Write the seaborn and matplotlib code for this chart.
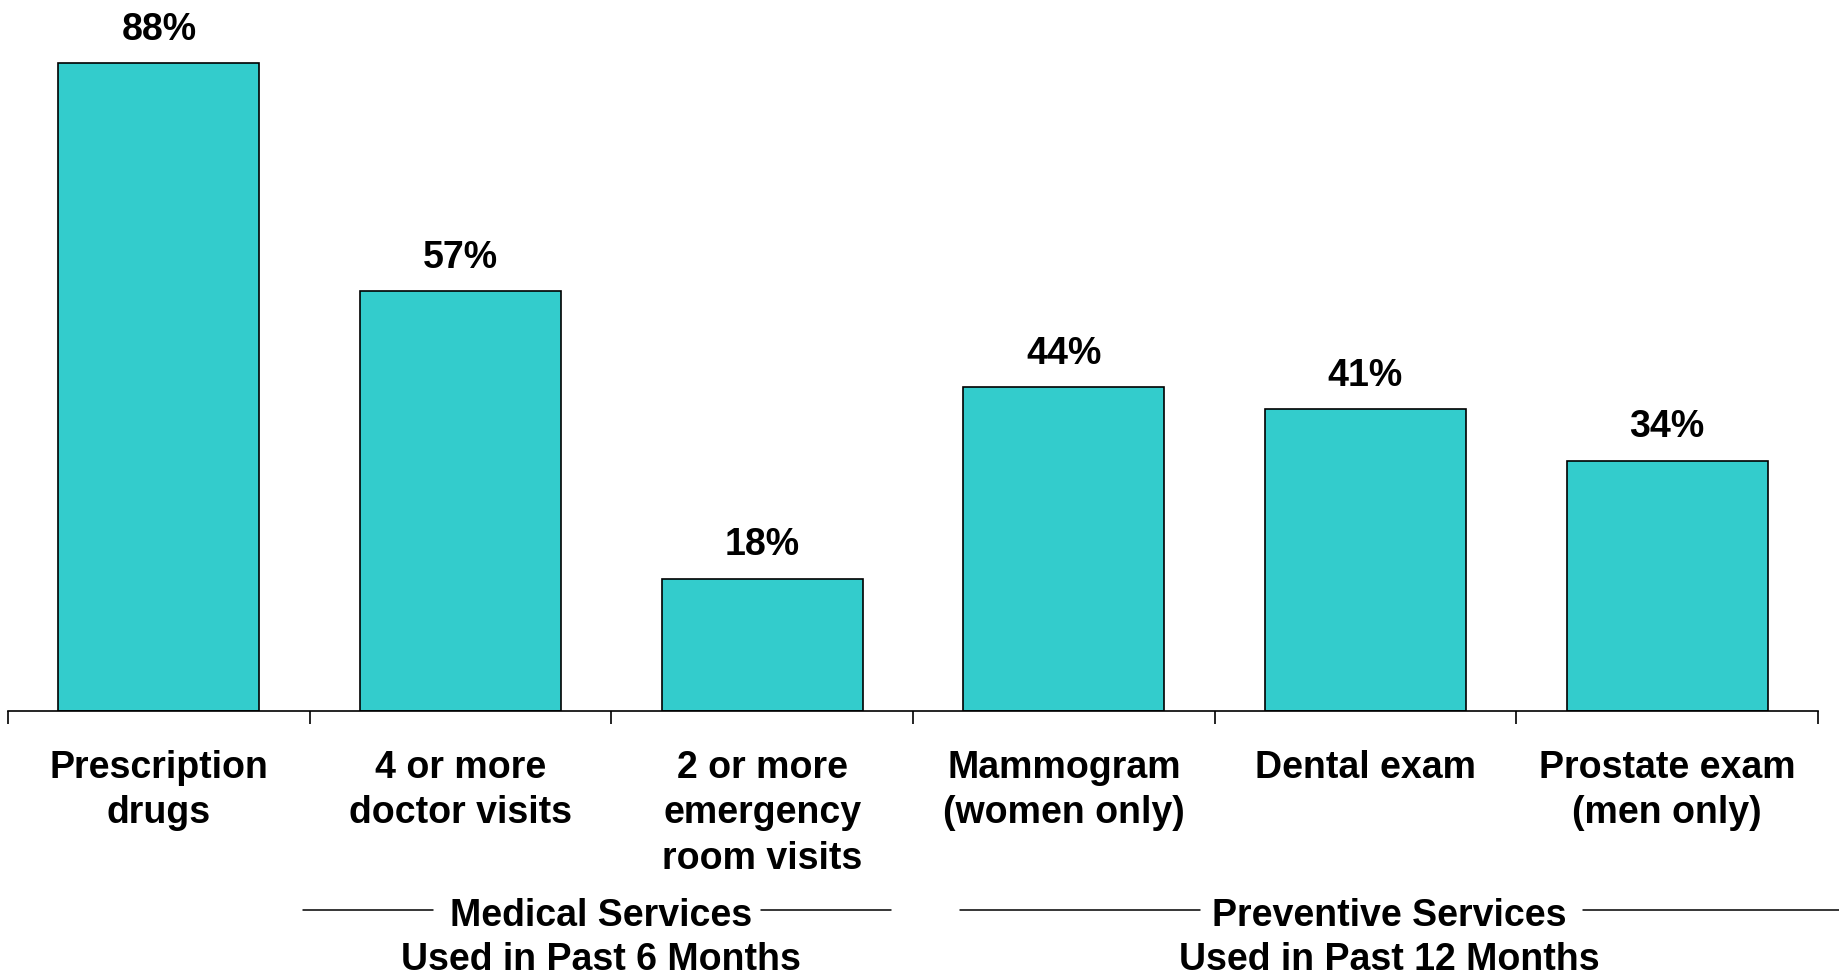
import matplotlib
matplotlib.use("Agg")
import matplotlib.pyplot as plt
import matplotlib.transforms as mtransforms
import seaborn as sns
import pandas as pd

categories = ["Prescription\ndrugs", "4 or more\ndoctor visits", "2 or more\nemergency\nroom visits",
              "Mammogram\n(women only)", "Dental exam", "Prostate exam\n(men only)"]
values = [88, 57, 18, 44, 41, 34]
value_labels = ["88%", "57%", "18%", "44%", "41%", "34%"]
group_titles = ["Medical Services", "Preventive Services"]
group_subtitles = ["Used in Past 6 Months", "Used in Past 12 Months"]

sns.set_theme(style="white")
plt.rcParams['font.family'] = ['Liberation Sans', 'DejaVu Sans']
plt.rcParams['font.weight'] = 'bold'

FS = 27
W, H = 1839, 975
fig = plt.figure(figsize=(W / 100, H / 100), dpi=100)
ax = fig.add_axes([8 / W, 264 / H, 1810 / W, 711 / H])

df = pd.DataFrame({"cat": categories, "val": values})
sns.barplot(data=df, x="cat", y="val", color="#33CCCC", saturation=1,
            edgecolor="black", linewidth=1.2, width=0.667, ax=ax)

ax.set_xlim(-0.5, len(categories) - 0.5)
ax.set_ylim(0, 96.6)
ax.set_xlabel("")
ax.set_ylabel("")
ax.set_yticks([])
for s in ["left", "right", "top"]:
    ax.spines[s].set_visible(False)
ax.spines["bottom"].set_color("black")
ax.spines["bottom"].set_linewidth(1.2)

ax.set_xticks(range(len(categories)))
ax.set_xticklabels(categories, fontsize=FS, fontweight="bold", linespacing=1.34)
ax.tick_params(axis="x", which="major", length=0, pad=28, colors="black")
ax.set_xticks([i - 0.5 for i in range(len(categories) + 1)], minor=True)
ax.tick_params(axis="x", which="minor", bottom=True, length=9, width=1.2,
               direction="out", color="black")

for i, (v, lab) in enumerate(zip(values, value_labels)):
    ax.annotate(lab, xy=(i, v), xytext=(0, 17), textcoords="offset points",
                ha="center", va="baseline", fontsize=FS, fontweight="bold", color="black")

trans = mtransforms.blended_transform_factory(ax.transData, fig.transFigure)
line_y = (H - 909.5) / H
# group 1
ax.plot([0.479, 0.908], [line_y, line_y], transform=trans, color="black", lw=1.1, clip_on=False)
ax.plot([1.997, 2.426], [line_y, line_y], transform=trans, color="black", lw=1.1, clip_on=False)
ax.text(1.467, (H - 926.5) / H, group_titles[0], transform=trans, ha="center", va="baseline",
        fontsize=FS, fontweight="bold", color="black")
ax.text(1.467, (H - 969.5) / H, group_subtitles[0], transform=trans, ha="center", va="baseline",
        fontsize=FS, fontweight="bold", color="black")
# group 2
ax.plot([2.655, 3.453], [line_y, line_y], transform=trans, color="black", lw=1.1, clip_on=False)
ax.plot([4.722, 5.6], [line_y, line_y], transform=trans, color="black", lw=1.1, clip_on=False)
ax.text(4.079, (H - 926.5) / H, group_titles[1], transform=trans, ha="center", va="baseline",
        fontsize=FS, fontweight="bold", color="black")
ax.text(4.079, (H - 969.5) / H, group_subtitles[1], transform=trans, ha="center", va="baseline",
        fontsize=FS, fontweight="bold", color="black")

fig.savefig("out.png", dpi=100)
